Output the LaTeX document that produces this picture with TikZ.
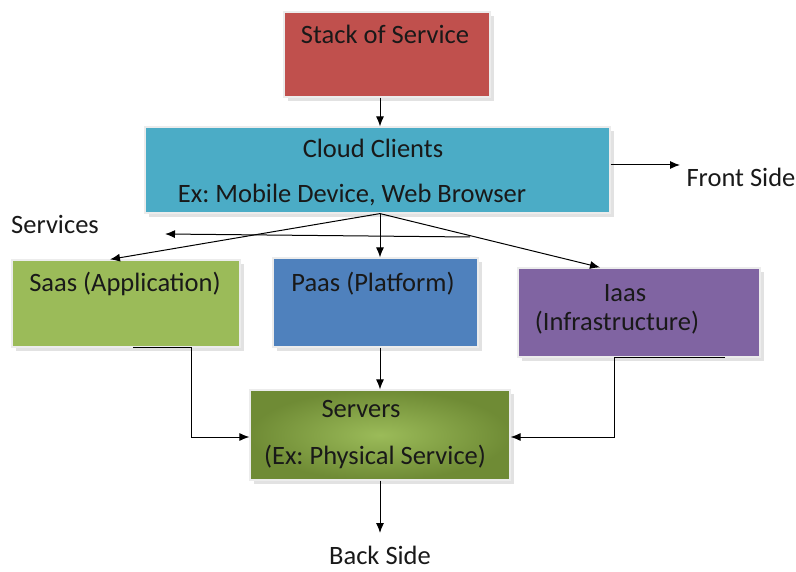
\documentclass[tikz,border=0pt]{standalone}
\usepackage{fontspec}
\setmainfont{Carlito}
\frenchspacing
\usepackage{tikz}
\usetikzlibrary{positioning,calc,shadows,arrows.meta}

\definecolor{stackred}{HTML}{C0504D}
\definecolor{clientcyan}{HTML}{4BACC6}
\definecolor{saasgreen}{HTML}{9BBB59}
\definecolor{paasblue}{HTML}{4F81BD}
\definecolor{iaaspurple}{HTML}{8064A2}
\definecolor{serverdark}{HTML}{6F8B35}

\begin{document}
\begin{tikzpicture}[x=1pt, y=-1pt,
    % Style definitions
    layer/.style={rectangle, draw=white!85!gray, line width=1.2pt, inner sep=0pt,
        drop shadow={shadow xshift=4pt, shadow yshift=-4pt, fill=gray!45}},
    arrow/.style={-{Latex[length=10pt, width=8pt]}, line width=1pt, color=black},
    txt/.style={font=\fontsize{26.5}{30}\selectfont, inner sep=0pt, text=black!90}
]

\useasboundingbox (0,0) rectangle (796,572);

% Layer boxes
\node[layer, fill=stackred, minimum width=206pt, minimum height=85pt] (stack) at (387,54.5) {};
\node[layer, fill=clientcyan, minimum width=465pt, minimum height=86pt] (client) at (377.5,170) {};
\node[layer, fill=saasgreen, minimum width=228pt, minimum height=87pt] (saas) at (126,303.5) {};
\node[layer, fill=paasblue, minimum width=205pt, minimum height=89pt] (paas) at (375.5,302.5) {};
\node[layer, fill=iaaspurple, minimum width=242pt, minimum height=89pt] (iaas) at (639,312.5) {};
\node[layer, inner color=saasgreen, outer color=serverdark, minimum width=260pt, minimum height=90pt] (servers) at (380,435) {};

% Box texts
\node[txt] (stackText) at (385,34) {Stack of Service};
\node[txt] (clientText) at (373,148) {Cloud Clients};
\node[txt] (clientEx) at (352,195) {Ex: Mobile Device, Web Browser};
\node[txt] (saasText) at (125,284) {Saas (Application)};
\node[txt] (paasText) at (373,284) {Paas (Platform)};
\node[txt] (iaasText) at (625,293) {Iaas};
\node[txt] (iaasSub) at (617,323) {(Infrastructure)};
\node[txt] (serversText) at (361,409) {Servers};
\node[txt] (serversEx) at (375,457) {(Ex: Physical Service)};

% Side labels
\node[txt] (front) at (741,177) {Front Side};
\node[txt] (services) at (55,224) {Services};
\node[txt] (back) at (380,555) {Back Side};

% Helper points
\coordinate (fan) at ($(client.south)+(2.5,0)$);
\coordinate (frontTip) at (680,165);
\coordinate (svcStart) at (470,237);
\coordinate (svcTip) at (165,234);
\coordinate (backTip) at (380,533);

% Connections
\draw[arrow] ([xshift=-7pt]stack.south) -- ([xshift=-7pt]stack.south |- client.north);
\draw[arrow] (client.east |- frontTip) -- (frontTip);

\draw[arrow] (fan) -- ([xshift=-16pt]saas.north);
\draw[arrow] (fan) -- (fan |- paas.north);
\draw[arrow] (fan) -- ([xshift=-39pt]iaas.north);
\draw[arrow] (svcStart) -- (svcTip);

\draw[arrow] ([xshift=7pt]saas.south) -- ++(58,0) |- ([yshift=-2pt]servers.west);
\draw[arrow] (fan |- paas.south) -- (fan |- servers.north);
\draw[arrow] ([xshift=86pt]iaas.south) -- ++(-111,0) |- ([yshift=-2pt]servers.east);
\draw[arrow] (servers.south) -- (backTip);

\end{tikzpicture}
\end{document}
